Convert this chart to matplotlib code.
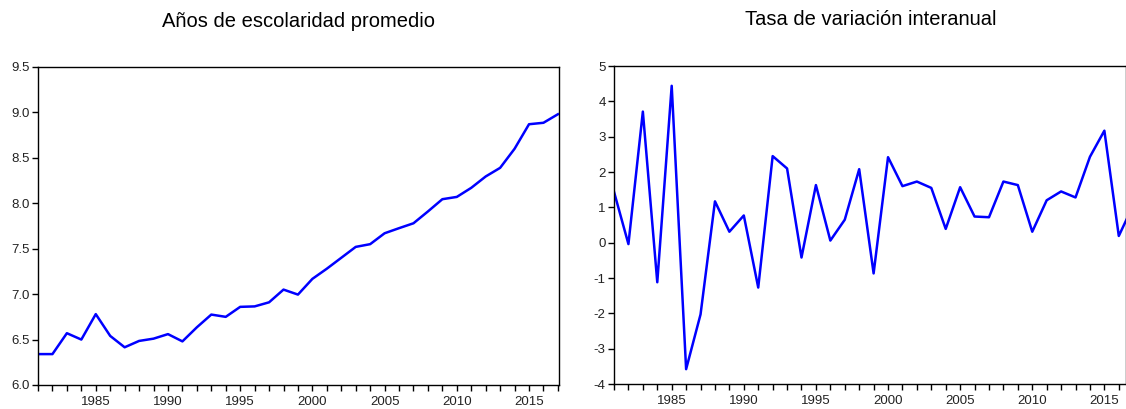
import numpy as np
import matplotlib.pyplot as plt
from matplotlib.ticker import MultipleLocator

plt.rcParams['font.family'] = ['Liberation Sans', 'DejaVu Sans']
plt.rcParams['axes.unicode_minus'] = False

years = np.arange(1981, 2018)

# promedio de años de escolaridad
escolaridad = [6.34, 6.34, 6.57, 6.50, 6.78, 6.54, 6.415, 6.485, 6.51, 6.56,
               6.48, 6.635, 6.775, 6.75, 6.86, 6.865, 6.91, 7.05, 6.995, 7.168,
               7.28, 7.40, 7.52, 7.55, 7.67, 7.726, 7.78, 7.91, 8.045, 8.07,
               8.17, 8.295, 8.39, 8.60, 8.87, 8.886, 8.98]

# variación interanual en %
variacion = [1.44, -0.04, 3.71, -1.12, 4.44, -3.58, -2.03, 1.17, 0.31, 0.77,
             -1.27, 2.45, 2.10, -0.42, 1.63, 0.06, 0.65, 2.08, -0.87, 2.42,
             1.60, 1.73, 1.55, 0.39, 1.57, 0.74, 0.72, 1.73, 1.63, 0.31,
             1.20, 1.45, 1.28, 2.43, 3.17, 0.19, 1.06]

titles = ["Años de escolaridad promedio", "Tasa de variación interanual"]

fig = plt.figure(figsize=(11.26, 4.09), dpi=100)
ax1 = fig.add_axes([0.03375, 0.0587, 0.4630, 0.7775])
ax2 = fig.add_axes([0.5453, 0.0611, 0.4547, 0.7775])


def style(ax):
    for s in ax.spines.values():
        s.set_linewidth(1.0)
        s.set_color('black')
    ax.xaxis.set_major_locator(MultipleLocator(5))
    ax.xaxis.set_minor_locator(MultipleLocator(1))
    ax.tick_params(axis='both', which='both', direction='out', length=4,
                   width=1.0, labelsize=9.5, labelcolor='#222222', pad=2)
    ax.tick_params(axis='x', which='both', top=False, pad=4)
    ax.tick_params(axis='y', right=False)


ax1.plot(years, escolaridad, color='#0000ff', linewidth=1.8)
ax1.set_xlim(1981, 2017.1)
ax1.set_ylim(6.0, 9.5)
ax1.yaxis.set_major_locator(MultipleLocator(0.5))
ax1.yaxis.set_major_formatter(plt.FormatStrFormatter('%.1f'))
style(ax1)

ax2.plot(years, variacion, color='#0000ff', linewidth=1.8)
ax2.set_xlim(1981, 2016.5)
ax2.set_ylim(-4, 5)
ax2.yaxis.set_major_locator(MultipleLocator(1))
style(ax2)

fig.text(0.265, 0.948, titles[0], ha='center', va='center', fontsize=14.5)
fig.text(0.773, 0.953, titles[1], ha='center', va='center', fontsize=14.5)

fig.savefig('out.png', dpi=100)
